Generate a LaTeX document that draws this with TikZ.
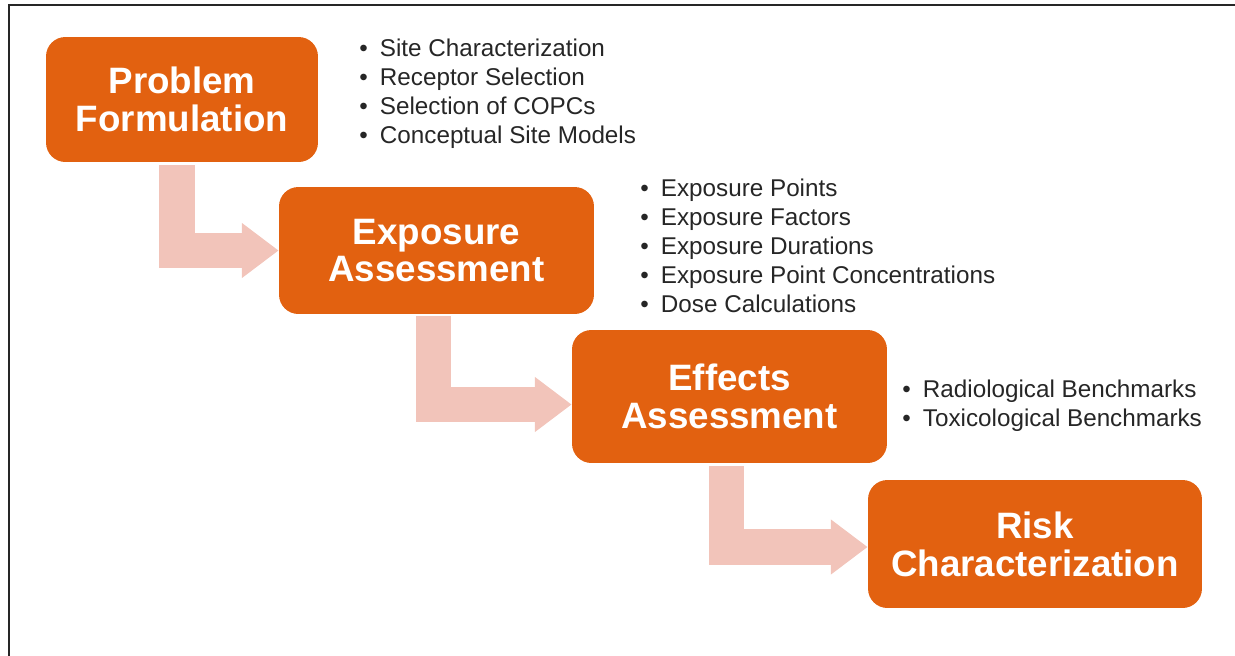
\documentclass[tikz,border=0pt]{standalone}
\usepackage{fontspec}
\setmainfont{Liberation Sans}
\usetikzlibrary{arrows.meta,calc}
\definecolor{stageorange}{RGB}{226,97,16}
\definecolor{flowpink}{RGB}{242,196,186}
\definecolor{itemgray}{RGB}{38,38,38}
\tikzset{
  stage/.style={fill=stageorange,rounded corners=11pt,text=white,align=center,inner sep=0pt,
    font=\bfseries\fontsize{20.9}{21.5}\selectfont},
  items/.style={anchor=base west,align=left,inner sep=0pt,text=itemgray,
    font=\fontsize{13.8}{16.5}\selectfont},
  flow/.style={draw=flowpink,line width=20.4pt,-{Triangle[length=21pt,width=30pt]}}
}
\newcommand{\itm}{\hbox to 0.85em{\textbullet\hfil}}
\begin{document}
\begin{tikzpicture}[x=0.02cm,y=-0.02cm]
  \useasboundingbox (0,0) rectangle (1235,656);
  \draw[line width=1.2pt,black!85] (1235,5) -| (9,656);
  % the four stages
  \node[stage,minimum width=5.44cm,minimum height=2.5cm] (a) at (182,99.5) {Problem\\Formulation};
  \node[stage,minimum width=6.3cm,minimum height=2.54cm] (b) at (436.5,250.5) {Exposure\\Assessment};
  \node[stage,minimum width=6.3cm,minimum height=2.66cm] (c) at (729.5,396.5) {Effects\\Assessment};
  \node[stage,minimum width=6.68cm,minimum height=2.56cm] (d) at (1035,544) {Risk\\Characterization};
  % what goes into each stage (placed by the last line)
  \node[items] (la) at (359,143.7) {\itm Site Characterization\\\itm Receptor Selection\\\itm Selection of COPCs\\\itm Conceptual Site Models};
  \node[items] (lb) at (640,312) {\itm Exposure Points\\\itm Exposure Factors\\\itm Exposure Durations\\\itm Exposure Point Concentrations\\\itm Dose Calculations};
  \node[items] (lc) at (902,426) {\itm Radiological Benchmarks\\\itm Toxicological Benchmarks};
  % bent arrows between stages
  \draw[flow] ($(a.south)+(-5,3)$) |- (b.west);
  \draw[flow] ($(b.south)+(-3,2)$) |- ($(c.west)+(0,8)$);
  \draw[flow] ($(c.south)+(-3,3)$) |- ($(d.west)+(0,3)$);
\end{tikzpicture}
\end{document}
